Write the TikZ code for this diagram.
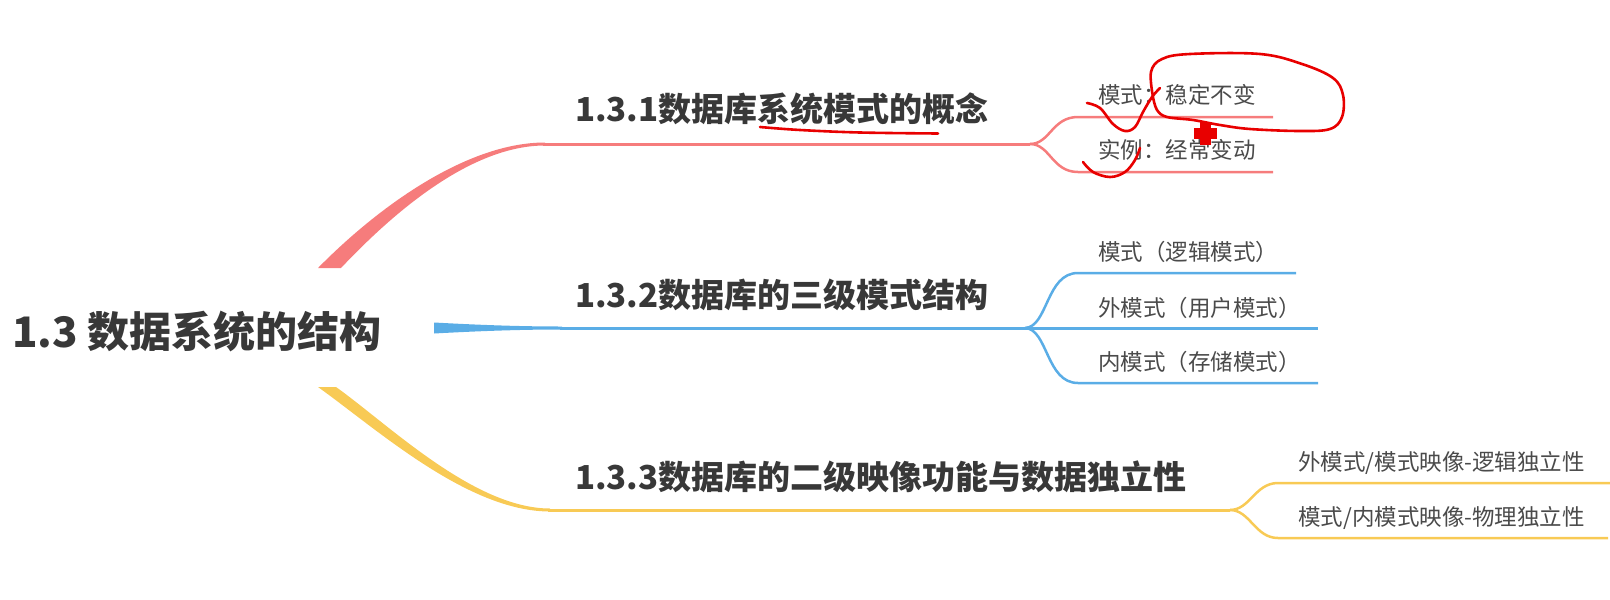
\documentclass[tikz,border=0pt]{standalone}
\usepackage{fontspec}
\setmainfont{Noto Sans CJK SC}
\definecolor{redc}{HTML}{F67C7C}
\definecolor{bluec}{HTML}{5AADE6}
\definecolor{yelc}{HTML}{F8CA55}
\definecolor{titlec}{HTML}{383838}
\definecolor{subc}{HTML}{4A4A4A}
\definecolor{scribc}{HTML}{E80000}
\begin{document}
\begin{tikzpicture}[x=1pt,y=-1pt,
  roottxt/.style={inner sep=0pt, anchor=west, text=titlec, font=\fontsize{42}{46}\selectfont\bfseries},
  tt/.style={inner sep=0pt, anchor=west, text=titlec, font=\fontsize{33}{36}\selectfont\bfseries},
  st/.style={inner sep=0pt, anchor=west, text=subc, font=\fontsize{22.5}{25}\selectfont},
  rline/.style={draw=redc, line width=3pt},
  rsub/.style={draw=redc, line width=2.5pt},
  bline/.style={draw=bluec, line width=3pt},
  bsub/.style={draw=bluec, line width=2.5pt},
  yline/.style={draw=yelc, line width=3pt},
  ysub/.style={draw=yelc, line width=2.5pt},
  scrib/.style={draw=scribc, line width=2.6pt, line cap=round, line join=round}]
\useasboundingbox (0,0) rectangle (1610,600);

% root
\node[roottxt] (root) at (12,331) {1.3 数据系统的结构};

% topic titles
\node[tt] (t1) at (575,109) {1.3.1数据库系统模式的概念};
\node[tt] (t2) at (575,295) {1.3.2数据库的三级模式结构};
\node[tt] (t3) at (575,477) {1.3.3数据库的二级映像功能与数据独立性};

% sub texts
\node[st] (s11) at (1098,95) {模式：稳定不变};
\node[st] (s12) at (1098,150) {实例：经常变动};
\node[st] (s21) at (1098,252) {模式（逻辑模式）};
\node[st] (s22) at (1098,308) {外模式（用户模式）};
\node[st] (s23) at (1098,362) {内模式（存储模式）};
\node[st] (s31) at (1298,463) {外模式/模式映像-逻辑独立性};
\node[st] (s32) at (1298,518) {模式/内模式映像-物理独立性};

% coordinates
\coordinate (r1) at (543,144);
\coordinate (rs) at (1030,144);
\coordinate (ra1) at (1078,117);
\coordinate (ra2) at (1273,117);
\coordinate (rb1) at (1078,172);
\coordinate (rb2) at (1273,172);

\coordinate (b1) at (560,328);
\coordinate (bs) at (1025,328);
\coordinate (bm2) at (1318,328);
\coordinate (ba1) at (1078,273);
\coordinate (ba2) at (1296,273);
\coordinate (bb1) at (1078,383);
\coordinate (bb2) at (1318,383);

\coordinate (y1) at (548,510);
\coordinate (ys) at (1230,510);
\coordinate (ya1) at (1278,483);
\coordinate (ya2) at (1610,483);
\coordinate (yb1) at (1278,538);
\coordinate (yb2) at (1608,538);

% red branch (tapered)
\fill[redc] (318,268) .. controls (380,205) and (468,142.5) .. (545,142.5)
  -- (545,145.5) .. controls (470,145.5) and (392,214) .. (341,268) -- cycle;
\draw[rline] (r1) -- (rs);
\draw[rsub] (rs) .. controls (1050,144) and (1052,117) .. (ra1) -- (ra2);
\draw[rsub] (rs) .. controls (1050,144) and (1052,172) .. (rb1) -- (rb2);

% blue branch (tapered)
\fill[bluec] (434,322.5) .. controls (480,325) and (520,326.5) .. (562,326.5)
  -- (562,329.5) .. controls (520,329.5) and (480,331) .. (434,333.5) -- cycle;
\draw[bline] (b1) -- (bs) -- (bm2);
\draw[bsub] (bs) .. controls (1048,327) and (1046,273) .. (ba1) -- (ba2);
\draw[bsub] (bs) .. controls (1048,329) and (1046,383) .. (bb1) -- (bb2);

% yellow branch (tapered)
\fill[yelc] (336,387) .. controls (388,424) and (474,508.5) .. (550,508.5)
  -- (550,511.5) .. controls (468,511.5) and (378,430) .. (318,387) -- cycle;
\draw[yline] (y1) -- (ys);
\draw[ysub] (ys) .. controls (1250,510) and (1255,483) .. (ya1) -- (ya2);
\draw[ysub] (ys) .. controls (1250,510) and (1255,538) .. (yb1) -- (yb2);

% hand-drawn red annotations
\draw[scrib] plot[smooth, tension=0.6] coordinates {(760,127) (800,130) (860,132.5) (938,133.5)};
\draw[scrib] plot[smooth, tension=0.6] coordinates {(1153,97) (1151,72) (1162,59) (1190,54) (1260,54) (1302,64) (1333,78) (1343,95) (1342,117) (1330,129) (1300,131) (1250,129) (1220,125) (1193,120) (1167,117) (1157,110) (1153,97)};
\draw[scrib] plot[smooth, tension=0.6] coordinates {(1087,103) (1100,108) (1113,124) (1125,131) (1135,127) (1143,112) (1152,97) (1160,88)};
\draw[scrib] plot[smooth, tension=0.6] coordinates {(1083,162) (1093,172) (1110,177) (1125,172) (1135,160) (1140,148)};
\fill[scribc] (1193.5,127.5) rectangle (1217,139);
\fill[scribc] (1199.5,122) rectangle (1210.5,145);
\end{tikzpicture}
\end{document}
